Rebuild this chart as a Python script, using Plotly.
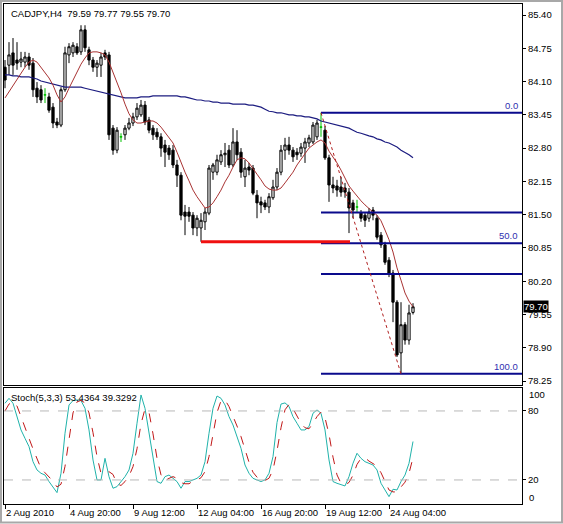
import plotly.graph_objects as go

# ---------------- data ----------------
symbol_text = "CADJPY,H4  79.59 79.77 79.55 79.70"
stoch_text = "Stoch(5,3,3) 53.4364 39.3292"

opens = [84.38, 84.42, 84.66, 84.52, 84.48, 84.48, 84.58, 84.46, 83.97, 83.94,
         83.84, 83.80, 83.60, 83.31, 83.25, 83.94, 84.62, 84.66, 84.78, 84.68,
         85.11, 84.72, 84.52, 84.38, 84.42, 84.66, 84.62, 83.19, 82.76, 83.02,
         83.06, 83.19, 83.29, 83.41, 83.45, 83.64, 83.35, 83.19, 83.11, 83.02,
         82.86, 82.80, 82.76, 82.47, 82.27, 81.55, 81.55, 81.49, 81.24, 81.24,
         81.36, 81.53, 82.33, 82.33, 82.53, 82.67, 82.76, 82.47, 82.92, 82.72,
         82.24, 82.43, 82.41, 81.88, 81.75, 81.73, 81.65, 81.83, 82.04, 82.33,
         82.76, 82.86, 82.76, 82.72, 82.70, 82.80, 82.90, 82.92, 83.02, 83.21,
         83.15, 82.61, 82.08, 82.06, 82.04, 82.02, 81.94, 81.73, 81.65, 81.53,
         81.49, 81.43, 81.59, 81.43, 81.10, 80.91, 80.61, 80.36, 79.79, 78.80,
         79.35, 79.05, 79.59]
highs = [84.52, 84.87, 84.95, 84.87, 84.68, 84.68, 84.66, 84.56, 84.09, 84.03,
         83.97, 83.88, 83.68, 83.39, 83.99, 84.78, 84.85, 84.87, 84.85, 85.20,
         85.20, 84.78, 84.58, 84.52, 84.66, 84.72, 84.68, 83.25, 83.21, 83.09,
         83.25, 83.39, 83.49, 83.68, 83.74, 83.72, 83.41, 83.25, 83.19, 83.09,
         82.96, 82.86, 82.86, 82.57, 82.33, 81.69, 81.65, 81.55, 81.49, 81.53,
         81.63, 82.47, 82.51, 82.67, 82.76, 82.90, 82.86, 83.19, 83.15, 82.80,
         82.57, 82.51, 82.47, 81.98, 81.85, 81.79, 81.92, 82.18, 82.41, 82.86,
         83.00, 83.02, 82.82, 82.80, 82.90, 83.00, 83.06, 83.31, 83.35, 83.49,
         83.23, 82.67, 82.24, 82.18, 82.24, 82.12, 82.02, 81.79, 81.79, 81.59,
         81.55, 81.63, 81.65, 81.49, 81.16, 80.97, 80.67, 80.42, 79.83, 79.79,
         79.40, 79.74, 79.77]
lows = [83.97, 84.23, 84.23, 84.33, 84.38, 84.38, 84.33, 83.80, 83.68, 83.68,
        83.68, 83.49, 83.19, 83.19, 83.21, 83.90, 84.46, 84.58, 84.62, 84.62,
        84.68, 84.42, 84.29, 84.19, 84.19, 84.52, 82.96, 82.67, 82.70, 82.92,
        82.96, 83.15, 83.23, 83.35, 83.41, 83.25, 83.09, 82.96, 82.96, 82.63,
        82.43, 82.57, 82.41, 82.04, 81.39, 81.10, 81.36, 81.10, 81.08, 80.97,
        81.20, 81.49, 82.18, 82.27, 82.47, 82.43, 82.41, 82.43, 82.57, 82.22,
        82.04, 82.27, 81.88, 81.43, 81.53, 81.59, 81.53, 81.79, 81.98, 82.27,
        82.57, 82.67, 82.53, 82.57, 82.63, 82.51, 82.82, 82.88, 82.96, 83.02,
        82.57, 81.75, 81.92, 81.85, 81.85, 81.83, 81.14, 81.43, 81.55, 81.36,
        81.26, 81.36, 81.39, 81.01, 80.85, 80.52, 80.28, 79.40, 78.72, 78.39,
        78.96, 78.96, 79.55]
closes = [84.13, 84.62, 84.42, 84.46, 84.54, 84.58, 84.42, 83.94, 83.80, 83.74,
          83.84, 83.54, 83.29, 83.25, 83.94, 84.66, 84.78, 84.81, 84.66, 85.11,
          84.76, 84.52, 84.38, 84.46, 84.58, 84.58, 83.06, 82.76, 83.15, 83.02,
          83.19, 83.29, 83.41, 83.58, 83.64, 83.31, 83.15, 83.06, 83.02, 82.80,
          82.72, 82.67, 82.47, 82.27, 81.49, 81.47, 81.47, 81.24, 81.43, 81.39,
          81.55, 82.41, 82.47, 82.57, 82.67, 82.70, 82.47, 82.92, 82.67, 82.33,
          82.41, 82.37, 81.92, 81.73, 81.69, 81.65, 81.85, 82.04, 82.33, 82.76,
          82.86, 82.76, 82.63, 82.67, 82.82, 82.92, 83.00, 83.25, 83.29, 83.21,
          82.61, 82.08, 82.02, 81.98, 81.94, 81.94, 81.63, 81.59, 81.65, 81.43,
          81.39, 81.55, 81.49, 81.06, 80.91, 80.57, 80.36, 79.79, 78.76, 79.35,
          79.05, 79.58, 79.70]

ma_fast = [83.78, 83.90, 84.03, 84.13, 84.27, 84.38, 84.48, 84.52, 84.48, 84.38,
           84.29, 84.17, 84.03, 83.84, 83.70, 83.80, 83.97, 84.13, 84.29, 84.44,
           84.56, 84.66, 84.68, 84.68, 84.66, 84.62, 84.48, 84.29, 84.07, 83.88,
           83.66, 83.47, 83.35, 83.29, 83.29, 83.31, 83.33, 83.33, 83.29, 83.21,
           83.11, 83.00, 82.90, 82.72, 82.51, 82.33, 82.16, 81.98, 81.85, 81.73,
           81.63, 81.65, 81.73, 81.85, 81.98, 82.14, 82.27, 82.43, 82.57, 82.61,
           82.59, 82.51, 82.41, 82.29, 82.18, 82.06, 82.00, 81.98, 81.98, 82.02,
           82.12, 82.22, 82.33, 82.47, 82.57, 82.69, 82.80, 82.86, 82.92, 82.96,
           82.90, 82.74, 82.63, 82.51, 82.37, 82.22, 82.06, 81.96, 81.86, 81.77,
           81.69, 81.61, 81.55, 81.49, 81.38, 81.20, 81.01, 80.77, 80.46, 80.22,
           79.97, 79.81, 79.70]
ma_slow = [84.23, 84.23, 84.21, 84.21, 84.19, 84.19, 84.19, 84.17, 84.15, 84.11,
           84.09, 84.07, 84.05, 84.03, 84.01, 83.99, 83.99, 83.99, 83.99, 83.99,
           83.97, 83.95, 83.94, 83.92, 83.90, 83.88, 83.86, 83.84, 83.82, 83.80,
           83.78, 83.78, 83.78, 83.78, 83.80, 83.80, 83.80, 83.82, 83.82, 83.82,
           83.82, 83.82, 83.82, 83.82, 83.80, 83.80, 83.78, 83.76, 83.74, 83.74,
           83.72, 83.72, 83.70, 83.70, 83.68, 83.68, 83.68, 83.66, 83.66, 83.66,
           83.66, 83.64, 83.64, 83.62, 83.60, 83.56, 83.52, 83.51, 83.49, 83.49,
           83.47, 83.45, 83.45, 83.43, 83.43, 83.41, 83.41, 83.39, 83.37, 83.33,
           83.31, 83.29, 83.27, 83.25, 83.23, 83.21, 83.19, 83.15, 83.11, 83.09,
           83.06, 83.04, 83.02, 82.98, 82.96, 82.92, 82.90, 82.86, 82.82, 82.76,
           82.72, 82.67, 82.61]

stoch_main = [86.7, 91.0, 86.7, 75.1, 63.5, 56.2, 49.0, 35.9, 28.7, 25.8,
              24.3, 18.6, 14.2, 9.0, 25.8, 60.6, 85.2, 89.0, 89.6, 89.0,
              82.3, 63.5, 37.4, 20.0, 20.0, 38.8, 22.9, 12.8, 14.2, 18.6,
              22.9, 28.7, 43.2, 69.3, 93.9, 82.3, 60.6, 37.4, 18.6, 17.1,
              22.9, 24.3, 21.4, 18.6, 12.8, 18.6, 18.6, 20.0, 21.4, 24.3,
              35.9, 60.6, 82.3, 93.0, 91.0, 85.2, 75.1, 67.8, 57.7, 47.5,
              33.0, 25.8, 21.4, 20.0, 18.6, 20.0, 25.8, 40.3, 70.0, 86.0,
              87.0, 84.0, 75.0, 69.3, 63.5, 63.5, 66.4, 78.0, 80.9, 78.0,
              63.5, 37.4, 18.6, 17.1, 15.7, 14.8, 22.9, 34.5, 43.2, 38.8,
              35.9, 34.5, 33.0, 28.7, 17.1, 11.3, 5.5, 11.9, 11.3, 18.6,
              24.3, 34.5, 53.4364]
stoch_signal = [80.0, 86.0, 88.1, 84.3, 75.1, 64.9, 56.2, 47.0, 37.9, 30.1,
                26.3, 22.9, 19.0, 13.9, 16.3, 31.8, 57.2, 78.3, 87.9, 89.2,
                87.0, 78.3, 61.1, 40.3, 25.8, 26.3, 27.2, 24.8, 16.6, 15.2,
                18.6, 23.4, 31.6, 47.1, 68.8, 81.8, 78.9, 60.1, 38.9, 24.4,
                19.5, 21.4, 22.9, 21.4, 17.6, 16.7, 16.7, 19.1, 20.0, 21.9,
                27.2, 40.3, 59.6, 78.6, 88.8, 89.7, 83.8, 76.0, 66.9, 57.7,
                46.1, 35.4, 26.7, 22.4, 20.0, 19.5, 21.5, 28.7, 45.4, 65.4,
                81.0, 85.7, 82.0, 76.1, 69.3, 65.4, 64.5, 69.3, 75.1, 79.0,
                74.1, 59.6, 39.8, 24.4, 17.1, 15.9, 17.8, 24.1, 33.5, 38.8,
                39.3, 36.4, 34.5, 32.1, 26.3, 19.0, 11.3, 9.6, 9.6, 13.9,
                18.1, 25.8, 39.3292]

price_ticks = [85.40, 84.75, 84.10, 83.45, 82.80, 82.15, 81.50, 80.85, 80.20, 79.55, 78.90, 78.25]
time_tick_bars = [0, 16, 32, 48, 64, 80, 96]
time_tick_labels = ["2 Aug 2010", "4 Aug 20:00", "9 Aug 12:00", "12 Aug 04:00",
                    "16 Aug 20:00", "19 Aug 12:00", "24 Aug 04:00"]

fib_high_bar, fib_high = 79, 83.49
fib_low_bar, fib_low = 99, 78.39
fib_levels = [0.0, 38.2, 50.0, 61.8, 100.0]
fib_labels = ["0.0", "", "50.0", "", "100.0"]

support_price = 80.97
support_start_bar, support_end_bar = 49, 86.25

stoch_levels = [20, 80]
stoch_scale_labels = ["100", "0"]
last_price = 79.70

# ---------------- geometry / style ----------------
W, H = 563, 524
ML, MR, MT, MB = 4, 41, 4, 20
PW, PH = W - ML - MR, H - MT - MB


def px_x(X):
    return (X - ML) / PW


def px_y(Y):
    return (H - MB - Y) / PH


X_RANGE = [-0.25, 129.25]
FONT = "Liberation Sans, Arial, sans-serif"
FS = 9.5

bars = list(range(len(opens)))
doji = [i for i in bars if opens[i] == closes[i]]
normal = [i for i in bars if opens[i] != closes[i]]

fig = go.Figure()

fig.add_trace(go.Candlestick(
    x=[bars[i] for i in normal], open=[opens[i] for i in normal],
    high=[highs[i] for i in normal], low=[lows[i] for i in normal],
    close=[closes[i] for i in normal],
    increasing=dict(line=dict(color="black", width=1), fillcolor="white"),
    decreasing=dict(line=dict(color="black", width=1), fillcolor="black"),
    xaxis="x", yaxis="y", showlegend=False, hoverinfo="skip"))
fig.add_trace(go.Candlestick(
    x=[bars[i] for i in doji], open=[opens[i] for i in doji],
    high=[highs[i] for i in doji], low=[lows[i] for i in doji],
    close=[closes[i] for i in doji],
    increasing=dict(line=dict(color="#00c000", width=1), fillcolor="#00c000"),
    decreasing=dict(line=dict(color="#00c000", width=1), fillcolor="#00c000"),
    xaxis="x", yaxis="y", showlegend=False, hoverinfo="skip"))

fig.add_trace(go.Scatter(x=bars, y=ma_slow, mode="lines",
                         line=dict(color="#1c1c80", width=1.2),
                         xaxis="x", yaxis="y", showlegend=False, hoverinfo="skip"))
fig.add_trace(go.Scatter(x=bars, y=ma_fast, mode="lines",
                         line=dict(color="#a83232", width=1),
                         xaxis="x", yaxis="y", showlegend=False, hoverinfo="skip"))

# Fibonacci retracement
rng = fib_high - fib_low
for lvl, lab in zip(fib_levels, fib_labels):
    p = fib_high - lvl / 100.0 * rng
    fig.add_trace(go.Scatter(x=[fib_high_bar, X_RANGE[1]], y=[p, p], mode="lines",
                             line=dict(color="#0a0a8c", width=2),
                             xaxis="x", yaxis="y", showlegend=False, hoverinfo="skip"))
    if lab:
        fig.add_annotation(x=1.0, xref="paper", y=p, yref="y", text=lab,
                           xanchor="right", yanchor="bottom", showarrow=False,
                           font=dict(family=FONT, size=FS, color="#3030b0"),
                           xshift=-2, yshift=0)
fig.add_trace(go.Scatter(x=[fib_high_bar, fib_low_bar], y=[fib_high, fib_low], mode="lines",
                         line=dict(color="#b02020", width=1, dash="dot"),
                         xaxis="x", yaxis="y", showlegend=False, hoverinfo="skip"))

# support line
fig.add_trace(go.Scatter(x=[support_start_bar, support_end_bar], y=[support_price, support_price],
                         mode="lines", line=dict(color="#f01010", width=3),
                         xaxis="x", yaxis="y", showlegend=False, hoverinfo="skip"))

# stochastic
for lv in stoch_levels:
    fig.add_shape(type="line", xref="paper", yref="y2", x0=0, x1=1, y0=lv, y1=lv,
                  line=dict(color="#b8b8b8", width=1, dash="dash"))
fig.add_trace(go.Scatter(x=bars, y=stoch_main, mode="lines",
                         line=dict(color="#20b2aa", width=1),
                         xaxis="x2", yaxis="y2", showlegend=False, hoverinfo="skip"))
fig.add_trace(go.Scatter(x=bars, y=stoch_signal, mode="lines",
                         line=dict(color="#c01818", width=1, dash="dash"),
                         xaxis="x2", yaxis="y2", showlegend=False, hoverinfo="skip"))

# texts
fig.add_annotation(x=px_x(9), xref="paper", y=px_y(13), yref="paper", text=symbol_text,
                   xanchor="left", yanchor="middle", showarrow=False,
                   font=dict(family=FONT, size=FS, color="black"))
fig.add_annotation(x=px_x(9), xref="paper", y=px_y(397), yref="paper", text=stoch_text,
                   xanchor="left", yanchor="middle", showarrow=False,
                   font=dict(family=FONT, size=FS, color="black"))
for b, lab in zip(time_tick_bars, time_tick_labels):
    fig.add_annotation(x=b, xref="x2", y=px_y(512), yref="paper", text=lab,
                       xanchor="left", yanchor="middle", showarrow=False, xshift=-1,
                       font=dict(family=FONT, size=FS, color="black"))
for lab, ypx in zip(stoch_scale_labels, [394, 497]):
    fig.add_annotation(x=px_x(527), xref="paper", y=px_y(ypx), yref="paper", text=lab,
                       xanchor="left", yanchor="middle", showarrow=False,
                       font=dict(family=FONT, size=FS, color="black"))
fig.add_annotation(x=px_x(523), xref="paper", y=last_price, yref="y", text="%.2f" % last_price,
                   xanchor="left", yanchor="middle", showarrow=False, bgcolor="black",
                   borderpad=0, font=dict(family=FONT, size=FS, color="white"))

# window frame
fig.add_shape(type="rect", xref="paper", yref="paper",
              x0=px_x(1), x1=px_x(562), y0=px_y(522.5), y1=px_y(1),
              line=dict(color="#a8a8a8", width=2), fillcolor="rgba(0,0,0,0)", layer="above")

axis_common = dict(showgrid=False, zeroline=False, showline=True, mirror=True,
                   linecolor="black", linewidth=1)
fig.update_layout(
    width=W, height=H, margin=dict(l=ML, r=MR, t=MT, b=MB),
    paper_bgcolor="white", plot_bgcolor="white", showlegend=False,
    font=dict(family=FONT, size=FS, color="black"),
    boxgap=0.2,
    xaxis=dict(domain=[0, 1], range=X_RANGE, anchor="y", showticklabels=False, ticks="",
               rangeslider=dict(visible=False), **axis_common),
    yaxis=dict(domain=[px_y(384.5), 1], range=[78.182, 85.615], side="right", anchor="x",
               tickvals=price_ticks, ticktext=["%.2f" % v for v in price_ticks],
               ticks="outside", ticklen=3, tickcolor="black",
               tickfont=dict(family=FONT, size=FS, color="black"), **axis_common),
    xaxis2=dict(domain=[0, 1], range=X_RANGE, anchor="y2", showticklabels=False,
                tickvals=time_tick_bars, ticks="outside", ticklen=4, tickcolor="black",
                rangeslider=dict(visible=False), **axis_common),
    yaxis2=dict(domain=[0, px_y(387.5)], range=[-0.9, 100.4], side="right", anchor="x2",
                tickvals=stoch_levels, ticks="outside", ticklen=3, tickcolor="black",
                tickfont=dict(family=FONT, size=FS, color="black"), **axis_common),
)

fig.write_html("out.html", config={"displayModeBar": False},
               post_script="document.body.style.margin='0';document.body.style.overflow='hidden';")
